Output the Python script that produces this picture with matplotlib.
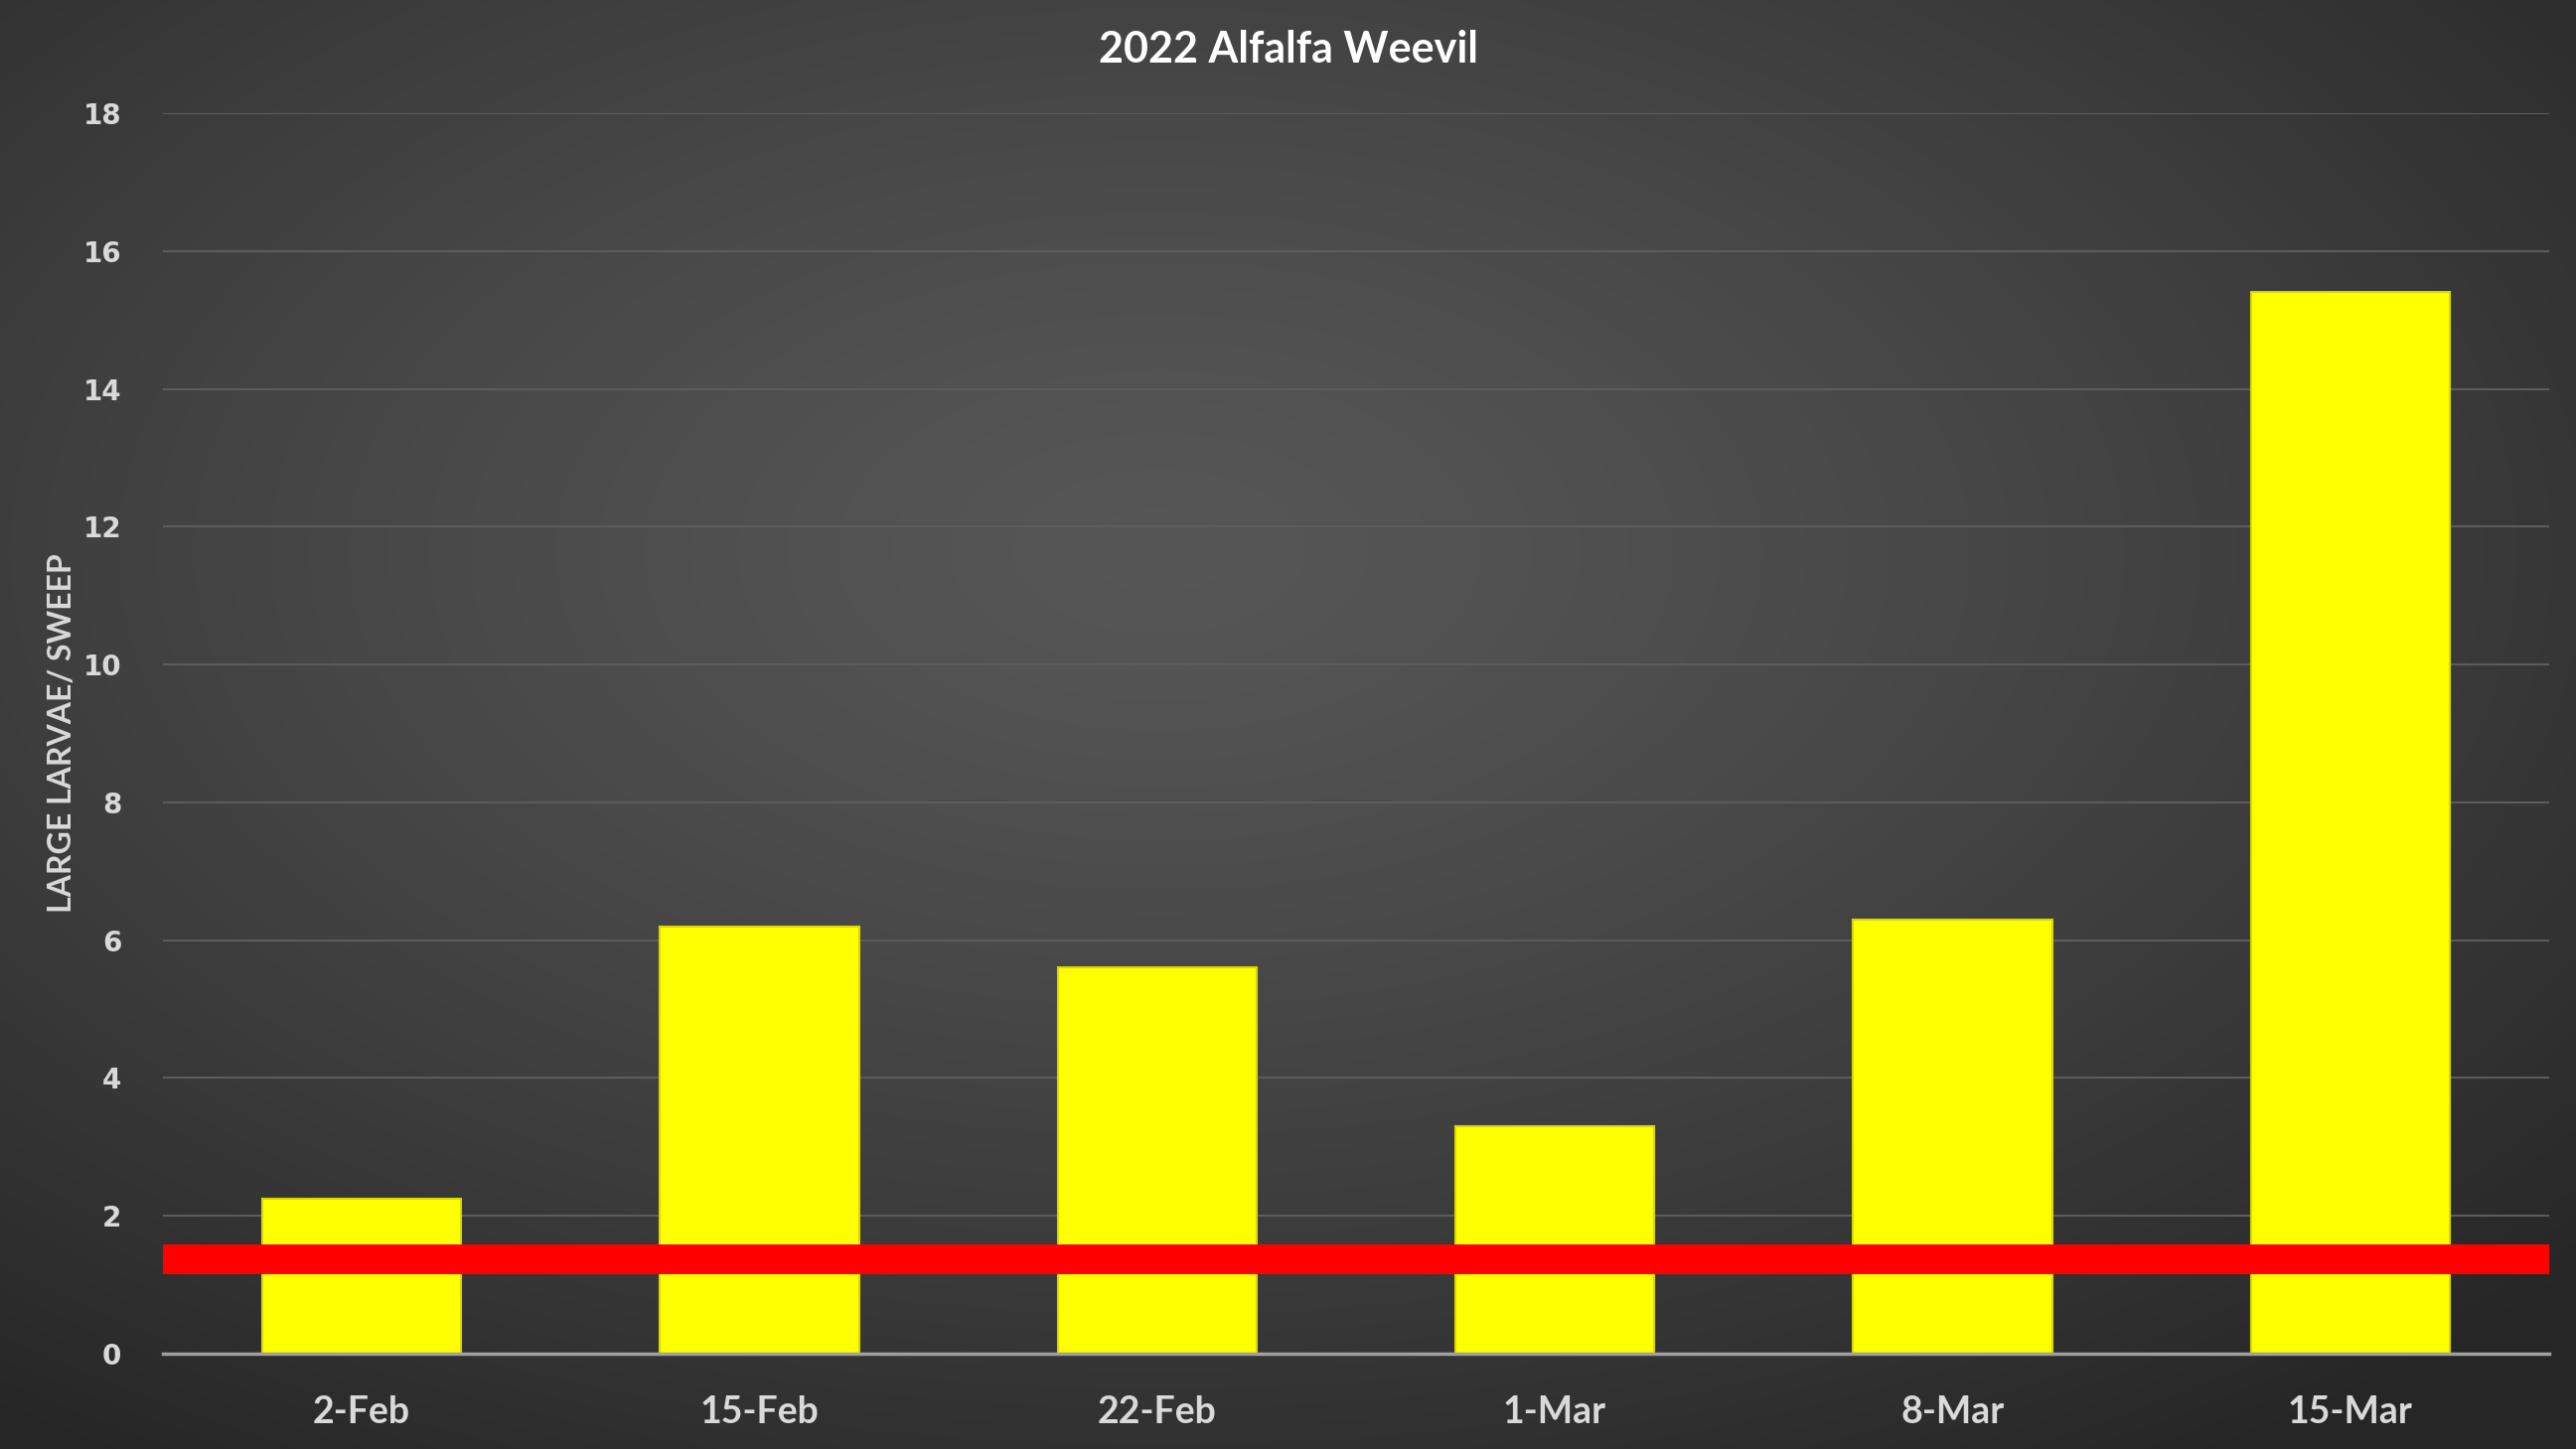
import numpy as np
import matplotlib.pyplot as plt

# dados do gráfico
datas = ['2-Feb', '15-Feb', '22-Feb', '1-Mar', '8-Mar', '15-Mar']
larvas = [2.25, 6.2, 5.6, 3.3, 6.3, 15.4]
limiar = 1.37  # linha vermelha (limite de ação)

fig = plt.figure(figsize=(25.93, 14.59), dpi=100)

# fundo com gradiente radial
fundo = fig.add_axes([0, 0, 1, 1], zorder=-10)
yy, xx = np.mgrid[0:1:400j, 0:1:700j]
r = np.sqrt(((xx - 0.45) / 0.75) ** 2 + ((yy - 0.38) / 0.75) ** 2)
r = np.clip(r, 0, 1)
cinza = 0.34 - 0.19 * r ** 1.3
img = np.dstack([cinza, cinza, cinza])
fundo.imshow(img, aspect='auto', extent=[0, 1, 1, 0], interpolation='bilinear')
fundo.axis('off')

ax = fig.add_axes([0.0632, 0.0658, 0.9264, 0.8561])
ax.set_facecolor('none')

x = np.arange(len(datas))
ax.bar(x, larvas, width=0.5, color='#ffff00', edgecolor='#d8d800',
       linewidth=1.5, zorder=3)
ax.axhline(limiar, color='#ff0000', linewidth=21.6, zorder=4)

ax.set_xlim(-0.5, len(datas) - 0.5)
ax.set_ylim(0, 18)
ax.set_yticks(np.arange(0, 19, 2))
ax.set_xticks(x)
ax.set_xticklabels(datas)

ax.grid(axis='y', color='#5c5c5c', linewidth=1.5, zorder=0)
ax.set_axisbelow(True)
for lado in ['top', 'right', 'left']:
    ax.spines[lado].set_visible(False)
ax.spines['bottom'].set_color('#a0a0a0')
ax.spines['bottom'].set_linewidth(2.5)
ax.spines['bottom'].set_zorder(5)

ax.tick_params(axis='both', length=0)
ax.tick_params(axis='x', pad=30, labelsize=27, labelcolor='#d9d9d9')
ax.tick_params(axis='y', pad=30, labelsize=20, labelcolor='#d9d9d9')
for t in ax.get_xticklabels():
    t.set_fontfamily('Lato')
    t.set_fontweight('bold')
for t in ax.get_yticklabels():
    t.set_fontfamily('DejaVu Sans')
    t.set_fontweight('bold')

ax.set_ylabel('LARGE LARVAE/ SWEEP', fontsize=23, color='#d9d9d9',
              family='Lato', fontweight='bold')
ax.yaxis.set_label_coords(-0.036, 0.5)

fig.text(0.5, 0.966, '2022 Alfalfa Weevil', ha='center', va='center',
         fontsize=31, color='white', fontweight='bold', family='Lato')

fig.savefig('out.png', dpi=100)
